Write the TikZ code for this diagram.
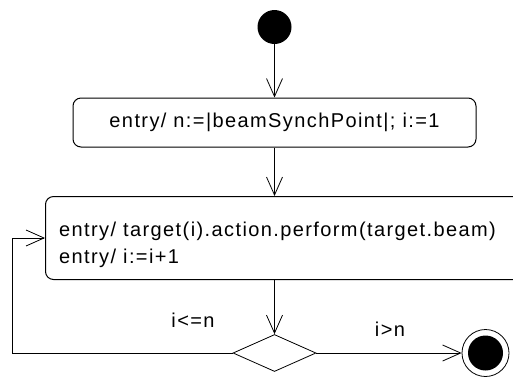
\documentclass[tikz,border=0pt]{standalone}
\usepackage{fontspec}
\setmainfont{Liberation Sans}[LetterSpace=7]
\usetikzlibrary{arrows.meta,shapes.geometric}

\tikzset{
    flow/.style={-{Straight Barb[length=18pt,width=16pt]}, line width=0.8pt},
    actbox/.style={draw, rounded corners=8pt, line width=1pt, inner sep=0pt},
}

\begin{document}
\begin{tikzpicture}[x=1pt, y=-1pt, font=\fontsize{20}{27}\selectfont]
    \useasboundingbox (0,0) rectangle (513,376);

    \node [circle, fill, minimum size=34pt, inner sep=0pt] (start) at (274.5,27) {};

    \node [actbox, minimum width=403pt, minimum height=49pt] (init) at (274.5,122.5) {entry/ n:=|beamSynchPoint|; i:=1};

    \node [actbox, minimum width=500pt, minimum height=83pt, anchor=north west] (perform) at (45,196) {};
    \node [anchor=base west, align=left, inner sep=0pt] (performtext) at (59,263) {entry/ target(i).action.perform(target.beam)\\entry/ i:=i+1};

    \node [diamond, draw, minimum width=83pt, minimum height=37pt, inner sep=0pt, line width=0.8pt] (branch) at (274.5,353) {};

    \node [circle, draw, minimum size=47pt, inner sep=0pt, line width=0.8pt] (final) at (485.5,353) {};
    \node [circle, fill, minimum size=35pt, inner sep=0pt] (finaldot) at (final) {};

    \coordinate (loopback) at (12,353);

    \draw[flow] (start) -- (init);
    \draw[flow] (init.south) -- (init.south |- perform.north);
    \draw[flow] (branch.north |- perform.south) -- (branch.north);
    \draw[flow] (branch.east) -- (final.west);
    \draw[flow] (branch.west) -- (loopback) |- (perform.west);

    \node (repeat) at (193,320) {i<=n};
    \node (done) at (390,329) {i>n};
\end{tikzpicture}
\end{document}
